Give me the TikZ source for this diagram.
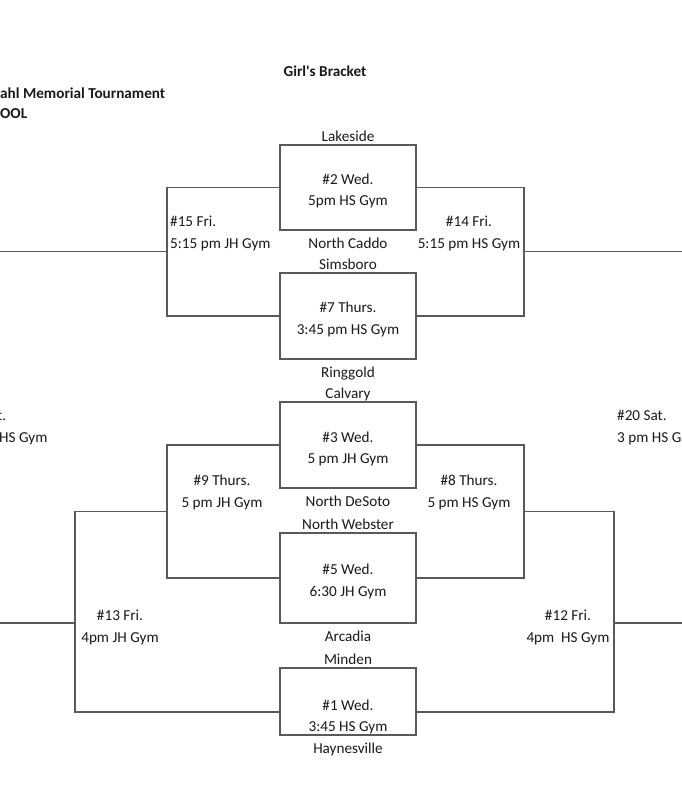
\documentclass[tikz,border=0pt]{standalone}
\usepackage{fontspec}
\setmainfont{Carlito}
\usetikzlibrary{positioning}

\begin{document}
\begin{tikzpicture}[x=1pt, y=-1pt,
                    gamebox/.style={rectangle, draw=black!65, line width=1.3pt, minimum width=136pt, inner sep=0pt, outer sep=0pt},
                    bracket/.style={draw=black!65, line width=1.3pt},
                    cell/.style={font=\fontsize{15.2pt}{21.5pt}\selectfont, text=black!90, inner sep=0pt, anchor=base},
                    leftcell/.style={cell, anchor=base west},
                    headcell/.style={cell, font=\fontsize{15.2pt}{21.5pt}\selectfont\bfseries}
                ]
                    \clip (0,0) rectangle (682,800);
                    % headings
                    \node[headcell] (title) at (325,76) {Girl\textquotesingle s Bracket};
                    \node[headcell, anchor=base west] (tourney) at (0,98) {ahl Memorial Tournament};
                    \node[headcell, anchor=base west] (school) at (0,118) {OOL};
                    % first round boxes
                    \node[gamebox, minimum height=85pt] (g2) at (348,187.5) {};
                    \node[gamebox, minimum height=86pt] (g7) at (348,316) {};
                    \node[gamebox, minimum height=86pt] (g3) at (348,445) {};
                    \node[gamebox, minimum height=90pt] (g5) at (348,578) {};
                    \node[gamebox, minimum height=67pt] (g1) at (348,701.5) {};
                    \coordinate (g1w) at (280,712);
                    \coordinate (g1e) at (416,712);
                    % teams
                    \node[cell] (lakeside) at (348,141) {Lakeside};
                    \node[cell] (caddo) at (348,248) {North Caddo};
                    \node[cell] (simsboro) at (348,269) {Simsboro};
                    \node[cell] (ringgold) at (348,377) {Ringgold};
                    \node[cell] (calvary) at (348,398) {Calvary};
                    \node[cell] (desoto) at (348,506) {North DeSoto};
                    \node[cell] (webster) at (348,529) {North Webster};
                    \node[cell] (arcadia) at (348,641) {Arcadia};
                    \node[cell] (minden) at (348,664) {Minden};
                    \node[cell] (haynes) at (348,753) {Haynesville};
                    % first round games
                    \node[cell] (day2) at (348,184) {\#2 Wed.};
                    \node[cell] (time2) at (348,205) {5pm HS Gym};
                    \node[cell] (day7) at (348,312) {\#7 Thurs.};
                    \node[cell] (time7) at (348,334) {3:45 pm HS Gym};
                    \node[cell] (day3) at (348,442) {\#3 Wed.};
                    \node[cell] (time3) at (348,463) {5 pm JH Gym};
                    \node[cell] (day5) at (348,574) {\#5 Wed.};
                    \node[cell] (time5) at (348,596) {6:30 JH Gym};
                    \node[cell] (day1) at (348,710) {\#1 Wed.};
                    \node[cell] (time1) at (348,731) {3:45 HS Gym};
                    % bracket joints
                    \coordinate (c15) at (167,251.75);
                    \coordinate (c14) at (524,251.75);
                    \coordinate (c9) at (167,511.5);
                    \coordinate (c8) at (524,511.5);
                    \coordinate (c13) at (75,623);
                    \coordinate (c12) at (614,623);
                    \coordinate (e15) at (0,251.75);
                    \coordinate (e14) at (682,251.75);
                    \coordinate (e13) at (0,623);
                    \coordinate (e12) at (682,623);
                    \draw[bracket] (g2.west) -| (c15) |- (g7.west);
                    \draw[bracket] (g2.east) -| (c14) |- (g7.east);
                    \draw[bracket] (g3.west) -| (c9) |- (g5.west);
                    \draw[bracket] (g3.east) -| (c8) |- (g5.east);
                    \draw[bracket] (c9) -| (c13) |- (g1w);
                    \draw[bracket] (c8) -| (c12) |- (g1e);
                    \draw[bracket] (c15) -- (e15);
                    \draw[bracket] (c14) -- (e14);
                    \draw[bracket] (c13) -- (e13);
                    \draw[bracket] (c12) -- (e12);
                    % later games
                    \node[leftcell] (day15) at (170,226) {\#15 Fri.};
                    \node[leftcell] (time15) at (170,248) {5:15 pm JH Gym};
                    \node[cell] (day14) at (469,226) {\#14 Fri.};
                    \node[cell] (time14) at (469,248) {5:15 pm HS Gym};
                    \node[cell] (day9) at (222,485) {\#9 Thurs.};
                    \node[cell] (time9) at (222,507) {5 pm JH Gym};
                    \node[cell] (day8) at (469,485) {\#8 Thurs.};
                    \node[cell] (time8) at (469,507) {5 pm HS Gym};
                    \node[cell] (day13) at (120,620) {\#13 Fri.};
                    \node[cell] (time13) at (120,642) {4pm JH Gym};
                    \node[cell] (day12) at (568,620) {\#12 Fri.};
                    \node[cell] (time12) at (568,642) {4pm\ \ HS Gym};
                    \node[leftcell] (day20) at (617,420) {\#20 Sat.};
                    \node[leftcell] (time20) at (617,442) {3 pm HS G};
                    \node[leftcell] (dayl) at (-3,420) {t.};
                    \node[leftcell] (timel) at (-1,442) {HS Gym};
                \end{tikzpicture}
\end{document}
